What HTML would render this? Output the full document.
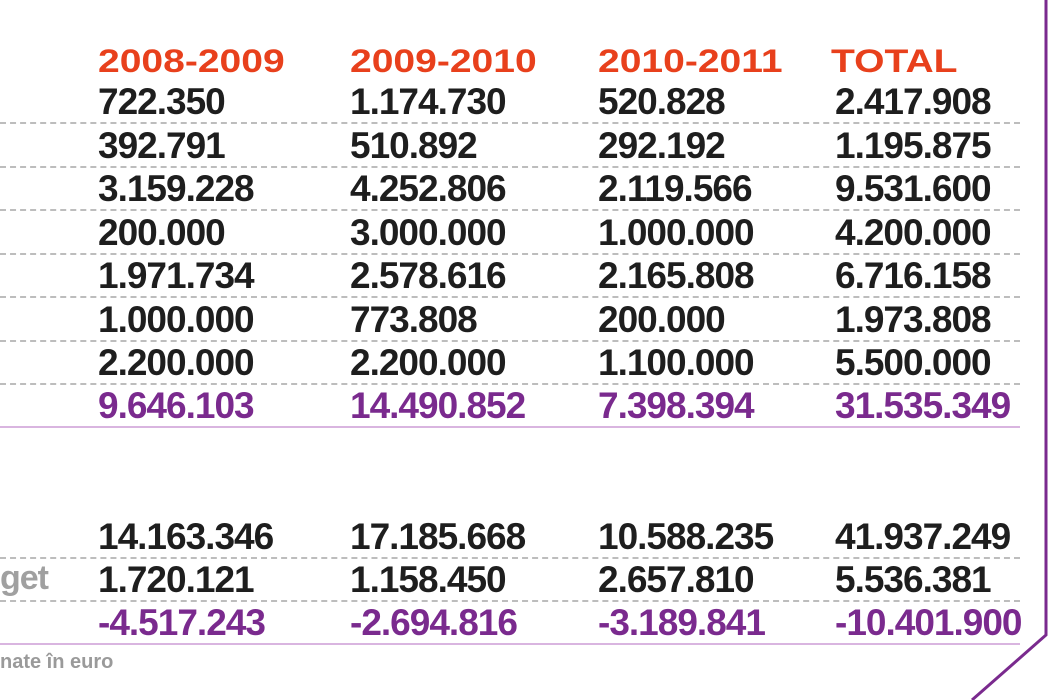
<!DOCTYPE html>
<html><head><meta charset="utf-8"><style>
body{margin:0;width:1050px;height:700px;background:#fff;overflow:hidden;position:relative;font-family:"Liberation Sans",sans-serif;}
.t{position:absolute;font-weight:bold;font-size:37px;color:#1e1e1e;line-height:1;white-space:nowrap;letter-spacing:-1px;margin-top:-2px}
.p{color:#7a2a8e}
.h{position:absolute;font-weight:900;font-size:32px;color:#e8401c;line-height:1;white-space:nowrap;transform-origin:0 0;transform:scaleX(1.22)}
.l{position:absolute;left:0;width:1020px;height:0;border-top:2px dashed #bdbdbd}
.lp{border-top:2px solid #d9b5e0}
</style></head><body>
<div class="h" style="left:98px;top:45px">2008-2009</div>
<div class="h" style="left:350px;top:45px">2009-2010</div>
<div class="h" style="left:598px;top:45px">2010-2011</div>
<div class="h" style="left:831px;top:45px">TOTAL</div>

<div class="t" style="left:98px;top:85px">722.350</div><div class="t" style="left:350px;top:85px">1.174.730</div><div class="t" style="left:598px;top:85px">520.828</div><div class="t" style="left:835px;top:85px">2.417.908</div>
<div class="l" style="top:122px"></div>
<div class="t" style="left:98px;top:129px">392.791</div><div class="t" style="left:350px;top:129px">510.892</div><div class="t" style="left:598px;top:129px">292.192</div><div class="t" style="left:835px;top:129px">1.195.875</div>
<div class="l" style="top:166px"></div>
<div class="t" style="left:98px;top:172px">3.159.228</div><div class="t" style="left:350px;top:172px">4.252.806</div><div class="t" style="left:598px;top:172px">2.119.566</div><div class="t" style="left:835px;top:172px">9.531.600</div>
<div class="l" style="top:209px"></div>
<div class="t" style="left:98px;top:216px">200.000</div><div class="t" style="left:350px;top:216px">3.000.000</div><div class="t" style="left:598px;top:216px">1.000.000</div><div class="t" style="left:835px;top:216px">4.200.000</div>
<div class="l" style="top:253px"></div>
<div class="t" style="left:98px;top:259px">1.971.734</div><div class="t" style="left:350px;top:259px">2.578.616</div><div class="t" style="left:598px;top:259px">2.165.808</div><div class="t" style="left:835px;top:259px">6.716.158</div>
<div class="l" style="top:296px"></div>
<div class="t" style="left:98px;top:303px">1.000.000</div><div class="t" style="left:350px;top:303px">773.808</div><div class="t" style="left:598px;top:303px">200.000</div><div class="t" style="left:835px;top:303px">1.973.808</div>
<div class="l" style="top:340px"></div>
<div class="t" style="left:98px;top:346px">2.200.000</div><div class="t" style="left:350px;top:346px">2.200.000</div><div class="t" style="left:598px;top:346px">1.100.000</div><div class="t" style="left:835px;top:346px">5.500.000</div>
<div class="l" style="top:383px"></div>
<div class="t p" style="left:98px;top:389px">9.646.103</div><div class="t p" style="left:350px;top:389px">14.490.852</div><div class="t p" style="left:598px;top:389px">7.398.394</div><div class="t p" style="left:835px;top:389px">31.535.349</div>
<div class="l lp" style="top:426px"></div>

<div class="t" style="left:98px;top:520px">14.163.346</div><div class="t" style="left:350px;top:520px">17.185.668</div><div class="t" style="left:598px;top:520px">10.588.235</div><div class="t" style="left:835px;top:520px">41.937.249</div>
<div class="l" style="top:557px"></div>
<div class="t" style="left:0;top:563px;color:#a0a0a0;font-size:34px">get</div>
<div class="t" style="left:98px;top:563px">1.720.121</div><div class="t" style="left:350px;top:563px">1.158.450</div><div class="t" style="left:598px;top:563px">2.657.810</div><div class="t" style="left:835px;top:563px">5.536.381</div>
<div class="l" style="top:600px"></div>
<div class="t p" style="left:98px;top:606px">-4.517.243</div><div class="t p" style="left:350px;top:606px">-2.694.816</div><div class="t p" style="left:598px;top:606px">-3.189.841</div><div class="t p" style="left:835px;top:606px">-10.401.900</div>
<div class="l lp" style="top:643px"></div>
<div class="t" style="left:0;top:652px;color:#9a9a9a;font-size:20px;letter-spacing:0;margin-top:0">nate în euro</div>

<svg style="position:absolute;left:0;top:0" width="1050" height="700"><polyline points="1046,0 1046,635 972,700" fill="none" stroke="#7a2a8e" stroke-width="3"/></svg>
</body></html>
